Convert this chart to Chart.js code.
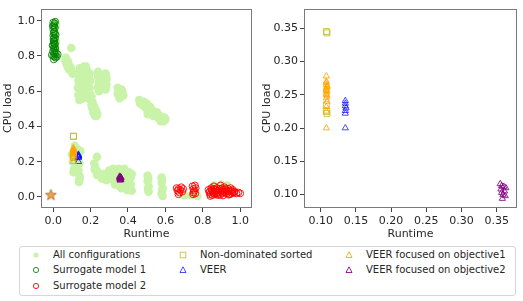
<!DOCTYPE html>
<html>
<head>
<meta charset="utf-8">
<script src="https://cdn.jsdelivr.net/npm/chart.js@4.4.1/dist/chart.umd.min.js"></script>
<style>
body { margin: 0; background: #fff; font-family: 'DejaVu Sans', sans-serif; }
#wrap { position: relative; width: 523px; height: 301px; overflow: hidden; }
#c1 { position: absolute; left: 0; top: 0; }
#c2 { position: absolute; left: 260px; top: 0; }
#legend { position: absolute; left: 19px; top: 246px; width: 495px; height: 48px;
          border: 1px solid #d6d6d6; border-radius: 3px; font-size: 10px; color: #262626; }
.item { position: absolute; white-space: nowrap; line-height: 12px; }
.item svg { position: absolute; left: -22px; top: 1px; }
</style>
</head>
<body>
<div id="wrap">
  <canvas id="c1" width="260" height="245"></canvas>
  <canvas id="c2" width="263" height="245"></canvas>
  <div id="legend"></div>
</div>
<script>
// tick values
var xTicksLeft = [0.0, 0.2, 0.4, 0.6, 0.8, 1.0];
var yTicksLeft = [0.0, 0.2, 0.4, 0.6, 0.8, 1.0];
var xTicksRight = [0.10, 0.15, 0.20, 0.25, 0.30, 0.35];
var yTicksRight = [0.10, 0.15, 0.20, 0.25, 0.30, 0.35];

// [runtime, cpu load]
var allConfigs = [
  [0.012,0.99],[0.015,0.97],[0.010,0.93],[0.015,0.88],[0.012,0.84],[0.018,0.80],
  [0.097,0.845],
  [0.065,0.775],[0.070,0.760],[0.075,0.745],[0.080,0.735],[0.085,0.725],[0.090,0.720],[0.100,0.710],[0.105,0.700],
  [0.068,0.790],[0.078,0.770],[0.088,0.745],[0.095,0.730],
  [0.135,0.70],[0.135,0.66],[0.132,0.62],[0.135,0.58],[0.140,0.55],[0.150,0.72],[0.150,0.68],[0.150,0.64],
  [0.155,0.60],[0.160,0.56],[0.165,0.74],[0.165,0.70],[0.170,0.66],[0.170,0.62],[0.175,0.58],[0.180,0.72],
  [0.180,0.68],[0.185,0.64],[0.190,0.60],[0.190,0.56],[0.200,0.55],[0.205,0.52],[0.210,0.50],[0.215,0.48],
  [0.220,0.47],[0.225,0.46],[0.200,0.58],[0.210,0.54],[0.220,0.51],[0.230,0.49],[0.235,0.47],
  [0.142,0.73],[0.145,0.69],[0.142,0.65],[0.145,0.61],[0.160,0.70],[0.160,0.66],[0.162,0.62],[0.165,0.58],
  [0.175,0.74],[0.178,0.70],[0.180,0.64],[0.185,0.60],[0.195,0.62],[0.198,0.66],[0.205,0.57],[0.215,0.52],
  [0.225,0.49],[0.232,0.46],[0.195,0.70],
  [0.240,0.71],[0.240,0.68],[0.245,0.65],[0.240,0.62],[0.245,0.60],[0.280,0.70],[0.285,0.67],[0.285,0.64],[0.280,0.61],
  [0.243,0.695],[0.242,0.635],[0.283,0.685],[0.282,0.625],
  [0.345,0.62],[0.350,0.60],[0.360,0.58],[0.370,0.60],[0.375,0.575],[0.355,0.56],[0.365,0.61],[0.345,0.585],
  [0.460,0.55],[0.470,0.53],[0.480,0.52],[0.490,0.51],[0.500,0.50],[0.510,0.49],[0.520,0.48],[0.530,0.49],
  [0.540,0.47],[0.550,0.46],[0.560,0.45],[0.570,0.46],[0.580,0.44],[0.590,0.43],[0.600,0.44],[0.500,0.53],[0.520,0.51],
  [0.465,0.53],[0.485,0.54],[0.505,0.47],[0.535,0.46],[0.555,0.48],[0.575,0.43],[0.595,0.45],
  [0.115,0.29],[0.130,0.27],[0.100,0.24],[0.105,0.20],[0.120,0.17],[0.109,0.14],[0.135,0.15],[0.141,0.12],
  [0.141,0.10],[0.138,0.085],[0.130,0.22],[0.145,0.26],[0.140,0.19],[0.112,0.16],
  [0.234,0.227],
  [0.220,0.19],[0.225,0.17],[0.230,0.15],[0.240,0.14],[0.250,0.13],[0.255,0.12],[0.265,0.125],[0.270,0.11],[0.280,0.10],[0.285,0.095],
  [0.222,0.155],[0.235,0.125],[0.260,0.105],[0.275,0.13],
  [0.300,0.15],[0.300,0.12],[0.310,0.10],[0.320,0.16],[0.320,0.13],[0.330,0.09],[0.330,0.07],[0.340,0.15],
  [0.345,0.11],[0.350,0.065],[0.360,0.08],[0.360,0.14],[0.370,0.06],[0.380,0.16],[0.380,0.12],[0.390,0.09],
  [0.400,0.06],[0.405,0.14],[0.415,0.11],[0.415,0.07],[0.420,0.13],[0.420,0.035],[0.395,0.04],
  [0.310,0.14],[0.325,0.11],[0.335,0.13],[0.350,0.16],[0.355,0.12],[0.370,0.10],[0.375,0.14],[0.385,0.07],
  [0.395,0.12],[0.405,0.09],[0.340,0.09],[0.365,0.05],
  [0.505,0.12],[0.505,0.09],[0.510,0.06],[0.510,0.03],[0.508,0.105],[0.507,0.045],
  [0.580,0.11],[0.580,0.08],[0.585,0.05],[0.580,0.02],[0.585,0.005],[0.582,0.095],[0.583,0.035],
  [0.700,0.01],[0.740,0.01],[0.770,0.005],[0.900,0.07],[0.930,0.065],[0.860,0.065]
];
var surrogate1 = [
  [0.000,0.99],[0.008,0.985],[0.004,0.975],[0.010,0.96],[0.000,0.95],[0.006,0.94],[0.002,0.93],[0.009,0.925],
  [0.000,0.915],[0.005,0.905],[0.011,0.90],[0.001,0.895],[0.007,0.885],[0.003,0.875],[0.010,0.87],[0.000,0.86],
  [0.006,0.855],[0.012,0.845],[0.002,0.84],[0.008,0.83],[-0.002,0.825],[0.004,0.815],[0.010,0.81],[0.000,0.80],
  [0.006,0.795],[0.012,0.79],[0.003,0.78],[0.015,0.82],[-0.004,0.86],[0.014,0.92],[-0.003,0.97],[0.011,0.995],
  [0.005,0.965],[0.002,0.885],[0.009,0.865],[0.020,0.795],[0.025,0.81],[-0.008,0.805]
];
var surrogate2 = [
  [0.660,0.050],[0.665,0.035],[0.670,0.045],[0.675,0.025],[0.680,0.040],[0.685,0.055],[0.690,0.030],[0.695,0.045],[0.670,0.015],
  [0.745,0.060],[0.750,0.045],[0.755,0.035],[0.750,0.025],[0.760,0.020],[0.748,0.015],[0.758,0.065],[0.762,0.050],
  [0.830,0.040],[0.835,0.025],[0.840,0.015],[0.845,0.050],[0.850,0.035],[0.855,0.020],[0.860,0.045],[0.865,0.030],
  [0.870,0.015],[0.875,0.050],[0.880,0.035],[0.885,0.025],[0.890,0.045],[0.895,0.065],[0.900,0.030],[0.905,0.020],
  [0.910,0.040],[0.915,0.055],[0.920,0.025],[0.925,0.035],[0.930,0.020],[0.935,0.045],[0.940,0.030],[0.945,0.015],
  [0.950,0.035],[0.955,0.020],[0.960,0.040],[0.965,0.025],[0.970,0.030],[0.980,0.020],[0.990,0.025],[1.000,0.020],
  [0.860,0.060],[0.840,0.005],[0.880,0.010],
  [0.838,0.032],[0.852,0.010],[0.868,0.040],[0.878,0.022],[0.892,0.012],[0.902,0.048],[0.912,0.028],[0.922,0.045],
  [0.938,0.012],[0.948,0.050],[0.958,0.030],[0.862,0.018],[0.848,0.042],[0.908,0.008]
];
var nonDominated = [[0.108,0.345],[0.109,0.343],[0.108,0.225],[0.109,0.222],[0.108,0.235]];
var veer = [[0.135,0.200],[0.135,0.222],[0.135,0.226],[0.136,0.230],[0.135,0.233],[0.135,0.237],[0.135,0.241]];
var veerObj1 = [[0.108,0.200],[0.108,0.225],[0.108,0.232],[0.109,0.240],[0.108,0.245],[0.108,0.250],[0.108,0.252],
  [0.109,0.255],[0.108,0.258],[0.108,0.260],[0.109,0.262],[0.108,0.265],[0.108,0.270],[0.108,0.278],
  [0.109,0.248],[0.108,0.256],[0.109,0.263],[0.108,0.268]];
var veerObj2 = [[0.355,0.116],[0.356,0.108],[0.357,0.103],[0.358,0.094],[0.360,0.112],[0.361,0.105],
  [0.362,0.098],[0.363,0.110],[0.359,0.100],[0.357,0.113]];
var idealPoint = [[-0.012,0.012]];

var FONT = 'DejaVu Sans';
var cLight = '#c9f3a9', cGreen = 'rgba(0,128,0,0.85)', cRed = 'rgba(255,0,0,0.9)',
    cOlive = 'rgba(188,189,34,0.8)', cBlue = 'rgba(0,0,255,0.7)', cOrange = 'rgba(255,165,0,0.85)', cPurple = 'rgba(128,0,128,0.85)';

function pts(a) { return a.map(function (p) { return {x: p[0], y: p[1]}; }); }

// star marker image
var star = document.createElement('canvas');
star.width = 13; star.height = 13;
(function () {
  var g = star.getContext('2d');
  g.beginPath();
  for (var i = 0; i < 10; i++) {
    var r = i % 2 ? 2.4 : 5.8, a = -Math.PI / 2 + i * Math.PI / 5;
    g.lineTo(6.5 + r * Math.cos(a), 6.9 + r * Math.sin(a));
  }
  g.closePath();
  g.fillStyle = '#f3a340'; g.fill();
  g.strokeStyle = '#8a5a22'; g.lineWidth = 0.7; g.stroke();
})();

var frame = {
  id: 'frame',
  afterDraw: function (chart) {
    var a = chart.chartArea, ctx = chart.ctx;
    ctx.save();
    ctx.strokeStyle = '#7a7a7a'; ctx.lineWidth = 1;
    ctx.strokeRect(Math.round(a.left) + 0.5, Math.round(a.top) + 0.5,
                   Math.round(a.right - a.left) - 1, Math.round(a.bottom - a.top) - 1);
    ctx.restore();
  }
};

function ds(label, data, style, color, fill, r, order) {
  return {
    label: label, data: pts(data), pointStyle: style, pointRadius: r, pointHoverRadius: r,
    borderColor: color, backgroundColor: fill ? color : 'rgba(0,0,0,0)', pointBorderWidth: fill ? 0 : 1,
    order: order
  };
}

function axis(min, max, ticks, dec, isX, size, titlePad) {
  return {
    type: 'linear', min: min, max: max,
    afterBuildTicks: function (s) { s.ticks = ticks.map(function (v) { return {value: v}; }); },
    afterFit: function (s) { if (isX) s.height = size; else s.width = size; },
    ticks: { callback: function (v) { return v.toFixed(dec); }, color: '#262626',
             font: {family: FONT, size: 11}, padding: isX ? 3 : 2, maxRotation: 0, autoSkip: false },
    grid: { drawOnChartArea: false, drawTicks: true, tickLength: 4, color: '#444' },
    border: { display: false },
    title: { display: true, text: isX ? 'Runtime' : 'CPU load', color: '#262626',
             font: {family: FONT, size: 11}, padding: titlePad }
  };
}

function opts(xr, yr, xt, yt, dec, ywidth, padRight) {
  return {
    responsive: false, animation: false, devicePixelRatio: 1,
    layout: { padding: {top: 5, right: padRight, left: 0, bottom: 0} },
    plugins: { legend: {display: false}, tooltip: {enabled: false} },
    scales: {
      x: axis(xr[0], xr[1], xt, dec, true, 37, {top: 0, bottom: 4}),
      y: axis(yr[0], yr[1], yt, dec, false, ywidth, {top: ywidth > 42 ? 1 : 2, bottom: 0})
    }
  };
}

new Chart(document.getElementById('c1'), {
  type: 'scatter',
  data: { datasets: [
    ds('All configurations', allConfigs, 'circle', cLight, true, 4.3, 8),
    ds('Surrogate model 1', surrogate1, 'circle', cGreen, false, 3.3, 7),
    ds('Surrogate model 2', surrogate2, 'circle', cRed, false, 3.4, 6),
    ds('Non-dominated sorted', nonDominated, 'rect', cOlive, false, 4.2, 5),
    ds('VEER', veer, 'triangle', cBlue, false, 3.6, 4),
    ds('VEER focused on objective1', veerObj1, 'triangle', cOrange, false, 3.6, 3),
    ds('VEER focused on objective2', veerObj2, 'triangle', cPurple, false, 3.6, 2),
    { label: 'ideal', data: pts(idealPoint), pointStyle: star, pointRadius: 6, order: 1 }
  ]},
  options: opts([-0.065, 1.063], [-0.063, 1.069], xTicksLeft, yTicksLeft, 1, 41, 8),
  plugins: [frame]
});

new Chart(document.getElementById('c2'), {
  type: 'scatter',
  data: { datasets: [
    ds('Non-dominated sorted', nonDominated, 'rect', cOlive, false, 4.2, 5),
    ds('VEER', veer, 'triangle', cBlue, false, 3.6, 4),
    ds('VEER focused on objective1', veerObj1, 'triangle', cOrange, false, 3.6, 3),
    ds('VEER focused on objective2', veerObj2, 'triangle', cPurple, false, 3.6, 2)
  ]},
  options: opts([0.0763, 0.3788], [0.0798, 0.3795], xTicksRight, yTicksRight, 2, 44, 6),
  plugins: [frame]
});

// legend
var legendItems = [
  ['All configurations', 'dot', cLight, 33, 2],
  ['Surrogate model 1', 'circle', cGreen, 33, 17],
  ['Surrogate model 2', 'circle', cRed, 33, 33],
  ['Non-dominated sorted', 'square', cOlive, 180, 2],
  ['VEER', 'tri', cBlue, 180, 17],
  ['VEER focused on objective1', 'tri', cOrange, 346, 2],
  ['VEER focused on objective2', 'tri', cPurple, 346, 17]
];
var leg = document.getElementById('legend');
legendItems.forEach(function (it) {
  var shape;
  if (it[1] === 'dot') shape = '<circle cx="5" cy="5" r="2.6" fill="' + it[2] + '"/>';
  else if (it[1] === 'circle') shape = '<circle cx="5" cy="5" r="2.6" fill="none" stroke="' + it[2] + '"/>';
  else if (it[1] === 'square') shape = '<rect x="2.2" y="2.2" width="5.6" height="5.6" fill="none" stroke="' + it[2] + '"/>';
  else shape = '<polygon points="5,1.8 8,7.5 2,7.5" fill="none" stroke="' + it[2] + '"/>';
  var d = document.createElement('div');
  d.className = 'item';
  d.style.left = it[3] + 'px';
  d.style.top = it[4] + 'px';
  d.innerHTML = '<svg width="10" height="10">' + shape + '</svg>' + it[0];
  leg.appendChild(d);
});
</script>
</body>
</html>
